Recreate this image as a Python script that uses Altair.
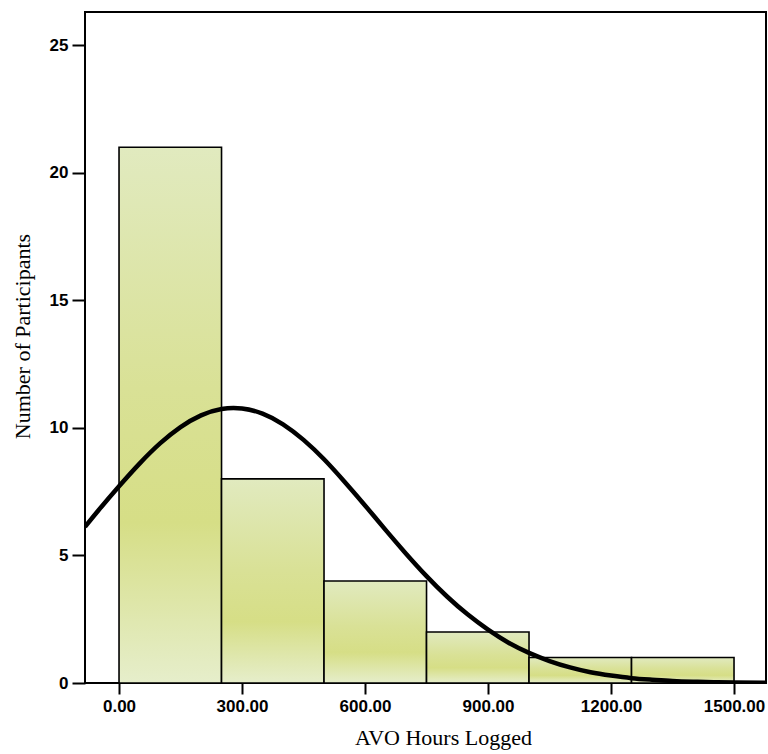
import altair as alt
import pandas as pd

# Histogram bins (AVO hours) and counts
bin_start = [0, 250, 500, 750, 1000, 1250]
bin_end = [250, 500, 750, 1000, 1250, 1500]
counts = [21, 8, 4, 2, 1, 1]

# Fitted normal curve
curve_x = [-83, -50, 0, 50, 100, 150, 200, 250, 300, 350, 400, 450, 500, 550,
           600, 650, 700, 750, 800, 850, 900, 950, 1000, 1050, 1100, 1150,
           1200, 1250, 1300, 1350, 1400, 1450, 1500, 1578]
curve_y = [6.12, 6.77, 7.71, 8.60, 9.39, 10.03, 10.49, 10.74, 10.76, 10.56,
           10.14, 9.53, 8.77, 7.89, 6.96, 6.00, 5.07, 4.19, 3.39, 2.69, 2.09,
           1.58, 1.18, 0.86, 0.61, 0.42, 0.29, 0.19, 0.13, 0.08, 0.05, 0.03,
           0.02, 0.01]

x_ticks = [0, 300, 600, 900, 1200, 1500]
y_ticks = [0, 5, 10, 15, 20, 25]

bars_df = pd.DataFrame({"start": bin_start, "end": bin_end, "count": counts})
curve_df = pd.DataFrame({"x": curve_x, "y": curve_y})

x_scale = alt.Scale(domain=[-83, 1578], nice=False, zero=False)
y_scale = alt.Scale(domain=[0, 26.3], nice=False)

fill_grad = alt.Gradient(
    gradient="linear",
    stops=[
        alt.GradientStop(color="#e1eabf", offset=0),
        alt.GradientStop(color="#d9e196", offset=0.45),
        alt.GradientStop(color="#d6de86", offset=0.7),
        alt.GradientStop(color="#e6eecb", offset=1),
    ],
    x1=0, x2=0, y1=0, y2=1,
)

bars = alt.Chart(bars_df).mark_rect(
    fill=fill_grad, stroke="black", strokeWidth=1.6
).encode(
    x=alt.X(
        "start:Q",
        scale=x_scale,
        axis=alt.Axis(
            values=x_ticks,
            format=".2f",
            title="AVO Hours Logged",
            titleFont="Liberation Serif",
            titleFontSize=22,
            titleFontWeight="normal",
            titleColor="black",
            titleX=358,
            titleY=61,
            titleBaseline="alphabetic",
            labelFont="Liberation Sans",
            labelFontSize=17,
            labelFontWeight="bold",
            labelColor="black",
            labelPadding=4,
            tickSize=11,
            tickWidth=2,
            tickColor="black",
            domain=False,
            grid=False,
        ),
    ),
    x2="end:Q",
    y=alt.Y(
        "count:Q",
        scale=y_scale,
        axis=alt.Axis(
            values=y_ticks,
            title="Number of Participants",
            titleFont="Liberation Serif",
            titleFontSize=22,
            titleFontWeight="normal",
            titleColor="black",
            titleAngle=270,
            titleX=-63,
            titleY=324,
            titleAlign="center",
            titleBaseline="middle",
            labelFont="Liberation Sans",
            labelFontSize=17,
            labelFontWeight="bold",
            labelColor="black",
            labelPadding=4,
            tickSize=13,
            tickWidth=2,
            tickColor="black",
            domain=False,
            grid=False,
        ),
    ),
    y2=alt.datum(0),
)

curve = alt.Chart(curve_df).mark_line(
    color="black", strokeWidth=4.5, interpolate="natural", clip=True
).encode(
    x=alt.X("x:Q", scale=x_scale),
    y=alt.Y("y:Q", scale=y_scale),
)

chart = alt.layer(bars, curve).properties(
    width=681,
    height=671,
    padding={"left": 85, "top": 12, "right": 2, "bottom": 71},
    autosize=alt.AutoSizeParams(type="none"),
    background="white",
).configure_view(
    stroke="black", strokeWidth=2
)

chart.save("out.html", embed_options={"renderer": "svg", "actions": False})
